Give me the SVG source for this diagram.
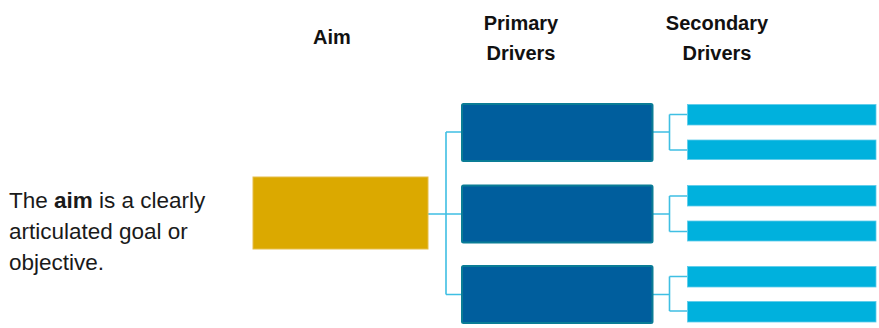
<svg xmlns="http://www.w3.org/2000/svg" width="879" height="328" viewBox="0 0 879 328">
<style>
  .hdr{font-family:"Liberation Sans",Arial,sans-serif;font-weight:bold;font-size:20px;fill:#111;text-anchor:middle}
  .body{font-family:"Liberation Sans",Arial,sans-serif;font-size:22.5px;fill:#1a1a1a}
  .aim{fill:#DBA900;stroke:#E6BE4A;stroke-width:1}
  .pri{fill:#005E9D;stroke:#0A7C96;stroke-width:2}
  .sec{fill:#00B1DD;stroke:#5CCBEA;stroke-width:0.8}
  .con{fill:none;stroke:#3FBFE3;stroke-width:1.6}
</style>
<rect width="879" height="328" fill="#ffffff"/>
<g id="headers">
  <text class="hdr" x="332" y="44">Aim</text>
  <text class="hdr" x="521" y="29.5">Primary</text>
  <text class="hdr" x="521" y="59.5">Drivers</text>
  <text class="hdr" x="717" y="29.5">Secondary</text>
  <text class="hdr" x="717" y="59.5">Drivers</text>
</g>
<g id="description">
  <text class="body" x="9" y="207.5">The <tspan font-weight="bold">aim</tspan> is a clearly</text>
  <text class="body" x="9" y="238.5">articulated goal or</text>
  <text class="body" x="9" y="269.5">objective.</text>
</g>
<g id="connectors">
  <path class="con" d="M428 214H446M446 132V294.5M446 132H462M446 214H462M446 294.5H462"/>
  <path class="con" d="M653 132H669.5M669.5 114.5V150M669.5 114.5H687M669.5 150H687"/>
  <path class="con" d="M653 214H669.5M669.5 196V231.5M669.5 196H687M669.5 231.5H687"/>
  <path class="con" d="M653 294.5H669.5M669.5 276.5V311M669.5 276.5H687M669.5 311H687"/>
</g>
<g id="aim"><rect class="aim" x="253" y="177" width="175" height="72"/></g>
<g id="primary1"><rect class="pri" x="462" y="104" width="190.5" height="57" rx="1.5"/></g>
<g id="primary2"><rect class="pri" x="462" y="185.5" width="190.5" height="57" rx="1.5"/></g>
<g id="primary3"><rect class="pri" x="462" y="266" width="190.5" height="57" rx="1.5"/></g>
<g id="secondary1"><rect class="sec" x="687.5" y="104.5" width="188.5" height="20.5"/></g>
<g id="secondary2"><rect class="sec" x="687.5" y="140" width="188.5" height="19.5"/></g>
<g id="secondary3"><rect class="sec" x="687.5" y="185.5" width="188.5" height="20.5"/></g>
<g id="secondary4"><rect class="sec" x="687.5" y="221" width="188.5" height="20"/></g>
<g id="secondary5"><rect class="sec" x="687.5" y="266.5" width="188.5" height="20.5"/></g>
<g id="secondary6"><rect class="sec" x="687.5" y="301.5" width="188.5" height="20.5"/></g>
</svg>
